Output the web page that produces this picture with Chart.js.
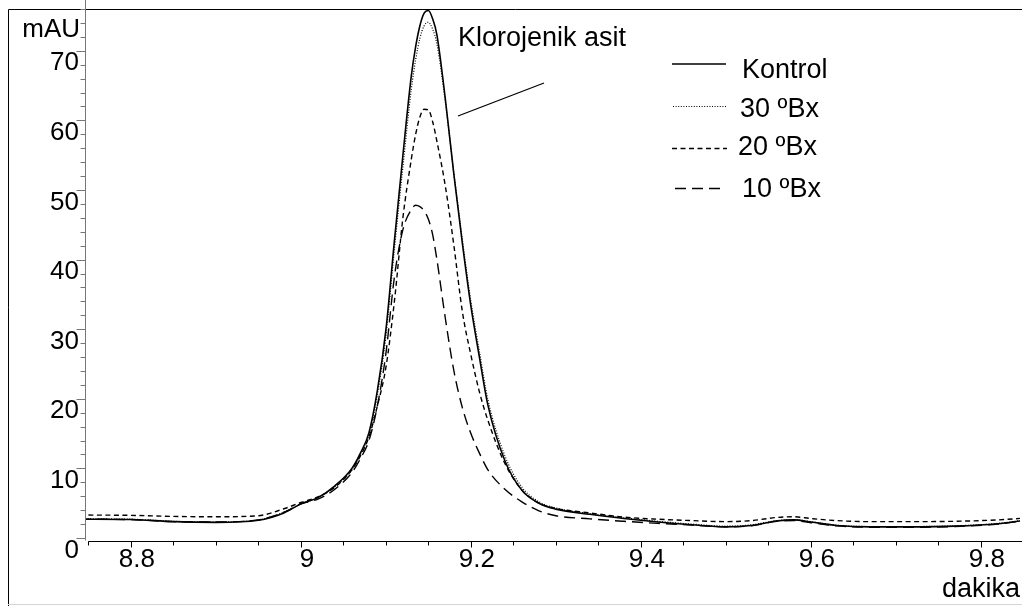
<!DOCTYPE html>
<html>
<head>
<meta charset="utf-8">
<script src="https://cdn.jsdelivr.net/npm/chart.js@4.4.1/dist/chart.umd.min.js"></script>
<style>
  html, body { margin: 0; padding: 0; background: #fff; }
  #wrap { width: 1022px; height: 606px; position: relative; }
</style>
</head>
<body>
<div id="wrap"><canvas id="chrom"></canvas></div>
<script>
// retention time (min) and absorbance (mAU)
const times = [8.74, 8.8, 8.85, 8.9, 8.95, 8.98, 9.0, 9.02, 9.04, 9.06, 9.07, 9.08, 9.09, 9.10,
  9.11, 9.12, 9.13, 9.135, 9.14, 9.145, 9.15, 9.155, 9.16, 9.17, 9.18, 9.19, 9.20, 9.21, 9.22,
  9.24, 9.26, 9.28, 9.30, 9.34, 9.38, 9.42, 9.46, 9.50, 9.53, 9.56, 9.58, 9.60, 9.63, 9.67,
  9.72, 9.77, 9.82, 9.85];
const kontrol = [2.7, 2.65, 2.35, 2.25, 2.55, 3.6, 4.9, 5.8, 7.5, 10.0, 12.2, 15.1, 21.2, 29.9,
  42.7, 55, 66.5, 70.6, 73.6, 75.4, 75.8, 74.6, 72.3, 63, 52.2, 42.3, 33.3, 26, 19.1,
  11.1, 6.85, 5.0, 4.15, 3.4, 2.8, 2.3, 1.9, 1.6, 1.8, 2.45, 2.6, 2.3, 1.8, 1.6,
  1.6, 1.7, 2.05, 2.5];
const bx30 = [2.75, 2.7, 2.4, 2.3, 2.6, 3.7, 4.9, 5.8, 7.4, 9.8, 12.0, 14.8, 20.6, 29.0,
  41.5, 53.3, 64.6, 68.7, 71.8, 73.6, 74.1, 73.1, 71.0, 62.6, 52.4, 42.8, 34.0, 26.8, 19.9,
  11.8, 7.3, 5.2, 4.3, 3.5, 2.9, 2.4, 2.0, 1.7, 1.9, 2.5, 2.65, 2.35, 1.85, 1.65,
  1.65, 1.75, 2.1, 2.55];
const bx20 = [3.3, 3.25, 3.1, 3.05, 3.2, 4.2, 5.1, 5.9, 7.3, 9.8, 11.8, 14.5, 19.0, 24.5,
  34, 46, 54.5, 58, 60.5, 61.6, 61.5, 59.8, 57, 50.5, 42, 32.5, 26.3, 21, 16.9,
  10.7, 6.9, 5.0, 4.25, 3.6, 3.0, 2.7, 2.5, 2.35, 2.5, 2.95, 3.05, 2.8, 2.5, 2.35,
  2.35, 2.4, 2.6, 2.85];
const bx10 = [2.7, 2.65, 2.35, 2.3, 2.6, 3.7, 4.9, 5.6, 7.0, 9.4, 11.4, 14.0, 19.0, 26.5,
  37.5, 44.3, 47.2, 47.8, 47.6, 47.0, 45.8, 43.6, 40.0, 31.5, 24, 18.7, 15, 12.2, 9.8,
  7.0, 5.2, 3.9, 3.2, 2.75, 2.4, 2.1, 1.85, 1.6, 1.75, 2.4, 2.5, 2.2, 1.75, 1.55,
  1.55, 1.65, 2.0, 2.5];

const seriesNames = ['Kontrol', '30 ºBx', '20 ºBx', '10 ºBx'];
const xTickValues = [8.8, 9.0, 9.2, 9.4, 9.6, 9.8];
const xTickLabels = ['8.8', '9', '9.2', '9.4', '9.6', '9.8'];
const yTickValues = [0, 10, 20, 30, 40, 50, 60, 70];
const yTickLabels = ['0', '10', '20', '30', '40', '50', '60', '70'];
const yUnit = 'mAU';
const xUnit = 'dakika';
const peakLabel = 'Klorojenik asit';

const FONT = '"Liberation Sans", Arial, sans-serif';
const dashes = [[], [1, 1.6], [5, 3.5], [11, 6]];
const widths = [1.6, 1.2, 1.4, 1.4];
const allSeries = [kontrol, bx30, bx20, bx10];

const decor = {
  id: 'decor',
  afterDraw(chart) {
    const ctx = chart.ctx;
    const xs = chart.scales.x;
    const ys = chart.scales.y;
    const area = chart.chartArea;
    ctx.save();

    // outer frame
    ctx.lineWidth = 1;
    ctx.strokeStyle = '#000';
    ctx.beginPath();
    ctx.moveTo(8.5, 606);
    ctx.lineTo(8.5, 9.5);
    ctx.lineTo(1022, 9.5);
    ctx.stroke();
    ctx.strokeStyle = '#d4d4d4';
    ctx.beginPath();
    ctx.moveTo(8, 604.5);
    ctx.lineTo(1022, 604.5);
    ctx.stroke();

    // y axis + ticks
    const ax = Math.round(area.left) + 0.5;
    ctx.strokeStyle = '#777';
    ctx.beginPath();
    ctx.moveTo(ax, 0);
    ctx.lineTo(ax, area.bottom);
    ctx.stroke();
    for (let v = 0; v <= 76; v += 2) {
      const y = Math.round(ys.getPixelForValue(v)) + 0.5;
      const len = v % 10 === 0 ? 9 : 5;
      ctx.beginPath();
      ctx.moveTo(ax - len, y);
      ctx.lineTo(ax, y);
      ctx.stroke();
    }

    // x axis + ticks
    const ay = Math.round(area.bottom) + 0.5;
    ctx.strokeStyle = '#000';
    ctx.beginPath();
    ctx.moveTo(xs.getPixelForValue(8.75), ay);
    ctx.lineTo(1022, ay);
    ctx.stroke();
    for (let i = 0; i <= 22; i++) {
      const t = 8.75 + i * 0.05;
      const x = Math.round(xs.getPixelForValue(t)) + 0.5;
      const len = i % 4 === 1 ? 6 : 4;
      ctx.beginPath();
      ctx.moveTo(x, ay);
      ctx.lineTo(x, ay + len);
      ctx.stroke();
    }

    // axis units
    ctx.fillStyle = '#000';
    ctx.font = '26px ' + FONT;
    ctx.textAlign = 'right';
    ctx.textBaseline = 'alphabetic';
    ctx.fillText(yUnit, 80, 37);
    ctx.font = '27px ' + FONT;
    ctx.fillText(xUnit, 1020, 597);

    // peak annotation
    ctx.textAlign = 'left';
    ctx.fillText(peakLabel, 458, 46);
    ctx.lineWidth = 1.3;
    ctx.beginPath();
    ctx.moveTo(458, 116);
    ctx.lineTo(544, 83);
    ctx.stroke();

    // legend
    const rows = [
      { ly: 64, x0: 672, x1: 726, tx: 742, ty: 78 },
      { ly: 106.5, x0: 673, x1: 726, tx: 740, ty: 117 },
      { ly: 148.5, x0: 672, x1: 727, tx: 738, ty: 155 },
      { ly: 188.5, x0: 675, x1: 723, tx: 742, ty: 197 }
    ];
    rows.forEach((r, i) => {
      ctx.setLineDash(dashes[i]);
      ctx.lineWidth = widths[i];
      ctx.beginPath();
      ctx.moveTo(r.x0, r.ly);
      ctx.lineTo(r.x1, r.ly);
      ctx.stroke();
      ctx.setLineDash([]);
      ctx.fillText(seriesNames[i], r.tx, r.ty);
    });
    ctx.restore();
  }
};

new Chart(document.getElementById('chrom'), {
  type: 'line',
  data: {
    datasets: allSeries.map((vals, i) => ({
      label: seriesNames[i],
      data: times.map((t, k) => ({ x: t, y: vals[k] })),
      borderColor: '#000',
      borderWidth: widths[i],
      borderDash: dashes[i],
      pointRadius: 0,
      fill: false,
      cubicInterpolationMode: 'monotone'
    }))
  },
  options: {
    responsive: true,
    maintainAspectRatio: false,
    animation: false,
    layout: { padding: { left: 0, right: 2, top: 0, bottom: 0 } },
    plugins: { legend: { display: false }, tooltip: { enabled: false } },
    scales: {
      x: {
        type: 'linear',
        min: 8.746,
        max: 9.846,
        afterBuildTicks: s => { s.ticks = xTickValues.map(v => ({ value: v })); },
        afterFit: s => { s.height = 65.5; s.paddingLeft = 0; s.paddingRight = 0; },
        grid: { display: false, drawTicks: false, tickLength: 0 },
        border: { display: false },
        ticks: {
          color: '#000',
          font: { family: FONT, size: 26 },
          padding: 4,
          labelOffset: 6,
          maxRotation: 0,
          autoSkip: false,
          callback: (v, i) => xTickLabels[i]
        }
      },
      y: {
        type: 'linear',
        min: -0.36,
        max: 77.3,
        afterBuildTicks: s => { s.ticks = yTickValues.map(v => ({ value: v })); },
        afterFit: s => { s.width = 85; s.paddingTop = 0; s.paddingBottom = 0; },
        grid: { display: false, drawTicks: false, tickLength: 0 },
        border: { display: false },
        ticks: {
          color: '#000',
          font: { family: FONT, size: 26 },
          padding: 6,
          labelOffset: 12.5,
          autoSkip: false,
          callback: (v, i) => yTickLabels[i]
        }
      }
    }
  },
  plugins: [decor]
});
</script>
</body>
</html>
